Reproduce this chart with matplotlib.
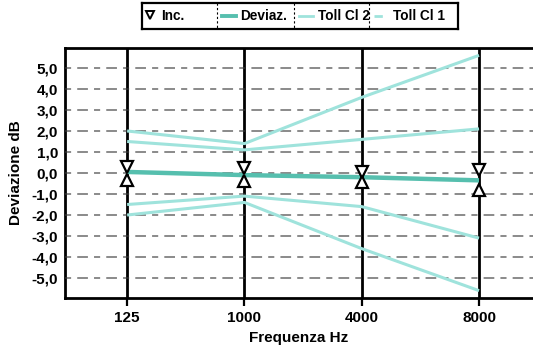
import matplotlib
matplotlib.use("Agg")
import matplotlib.pyplot as plt
from matplotlib.ticker import FixedLocator, FuncFormatter

# frequency bands and measured deviation (dB)
freqs = ["125", "1000", "4000", "8000"]
deviation = [0.05, -0.1, -0.2, -0.35]
inc_upper = [0.3, 0.25, 0.05, 0.15]
inc_lower = [-0.35, -0.4, -0.45, -0.8]

# tolerance limits, class 1 and class 2
cl1_upper = [1.5, 1.1, 1.6, 2.1]
cl1_lower = [-1.5, -1.1, -1.6, -3.1]
cl2_upper = [2.0, 1.4, 3.6, 5.6]
cl2_lower = [-2.0, -1.4, -3.6, -5.6]

y_ticks = [5, 4, 3, 2, 1, 0, -1, -2, -3, -4, -5]

TEAL = "#56bfae"
CYAN = "#9fe3dc"
FONT = ["Liberation Sans", "DejaVu Sans"]

W, H = 533, 347
fig = plt.figure(figsize=(W / 100, H / 100), dpi=100)
ax = fig.add_axes([65 / W, 49 / H, 1 - 65 / W, 250 / H])

x = list(range(len(freqs)))

ax.plot(x, cl2_upper, color=CYAN, lw=2.2, solid_capstyle="butt", zorder=3)
ax.plot(x, cl2_lower, color=CYAN, lw=2.2, solid_capstyle="butt", zorder=3)
ax.plot(x, cl1_upper, color=CYAN, lw=2.2, solid_capstyle="butt", zorder=3)
ax.plot(x, cl1_lower, color=CYAN, lw=2.2, solid_capstyle="butt", zorder=3)
ax.plot(x, deviation, color=TEAL, lw=3.2, solid_capstyle="butt", zorder=4)

ax.plot(x, inc_upper, ls="none", marker="v", ms=8, mfc="white",
        mec="black", mew=1.6, zorder=6)
ax.plot(x, inc_lower, ls="none", marker="^", ms=8, mfc="white",
        mec="black", mew=1.6, zorder=6)

ax.set_xlim(-0.53, 3.46)
ax.set_ylim(-5.95, 5.95)
ax.set_xticks(x)
ax.set_xticklabels(freqs)
ax.yaxis.set_major_locator(FixedLocator(y_ticks))
ax.yaxis.set_major_formatter(FuncFormatter(lambda v, _: f"{v:.1f}".replace(".", ",")))

ax.grid(axis="x", color="black", lw=2.0, zorder=5)
ax.grid(axis="y", color="#3a3a3a", lw=1.1, ls=(0, (4, 4, 7, 4)), alpha=0.75)
ax.set_axisbelow(False)

ax.tick_params(axis="x", length=6, width=1.6, pad=3, labelsize=11)
ax.tick_params(axis="y", length=0, pad=5, labelsize=11)
for lab in ax.get_xticklabels() + ax.get_yticklabels():
    lab.set_family(FONT)
    lab.set_fontweight("bold")

for side in ("left", "top", "bottom"):
    ax.spines[side].set_linewidth(2.0)
ax.spines["right"].set_visible(False)

ax.set_xlabel("Frequenza Hz", family=FONT, fontweight="bold", fontsize=11, labelpad=5)
ax.set_ylabel("Deviazione dB", family=FONT, fontweight="bold", fontsize=11, labelpad=6)

# legend strip drawn in pixel coordinates
lg = fig.add_axes([142 / W, 1 - 29 / H, 316 / W, 26 / H])
lg.set_xlim(142, 458)
lg.set_ylim(29, 3)
lg.set_xticks([])
lg.set_yticks([])
for s in lg.spines.values():
    s.set_linewidth(1.6)

for sx in (217, 294, 369):
    lg.plot([sx, sx], [3, 29], color="black", lw=0.8, ls=(0, (2, 2)))

ymid = 16
LFS = 9.8
lg.plot([150], [ymid - 1], marker="v", ms=6, mfc="white", mec="black", mew=1.4)
lg.text(161, ymid, "Inc.", family=FONT, fontweight="bold", fontsize=LFS, va="center")

lg.plot([222, 236], [ymid, ymid], color=TEAL, lw=2.8)
lg.text(240, ymid, "Deviaz.", family=FONT, fontweight="bold", fontsize=LFS, va="center")

lg.plot([299, 313], [ymid, ymid], color=CYAN, lw=2.0)
lg.text(318, ymid, "Toll Cl 2", family=FONT, fontweight="bold", fontsize=LFS, va="center")

lg.plot([374, 389], [ymid, ymid], color=CYAN, lw=2.0, ls=(0, (3, 3)))
lg.text(393, ymid, "Toll Cl 1", family=FONT, fontweight="bold", fontsize=LFS, va="center")

fig.savefig("out.png", dpi=100)
